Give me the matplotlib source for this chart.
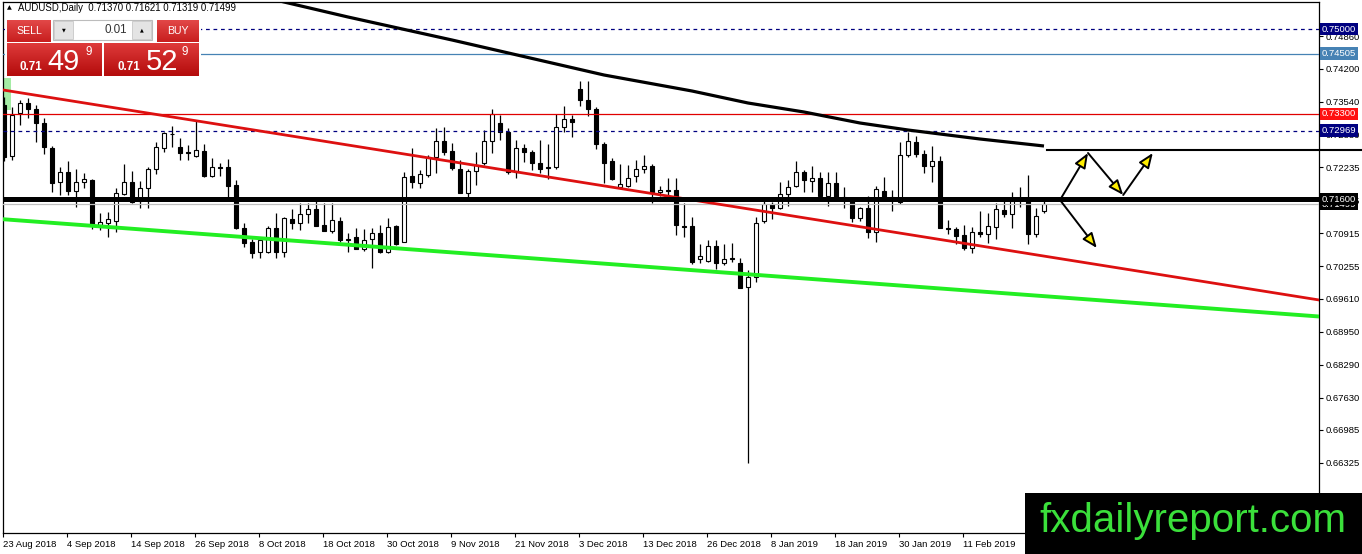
import matplotlib
matplotlib.use("Agg")
import matplotlib.pyplot as plt
import matplotlib.transforms as mtransforms
from matplotlib.colors import to_rgb
from matplotlib.patches import Rectangle, FancyArrowPatch
import numpy as np

plt.rcParams['font.family'] = ['Liberation Sans', 'DejaVu Sans']

# ---- chart data ----
symbol_info = "AUDUSD,Daily  0.71370 0.71621 0.71319 0.71499"

opens = [0.7348, 0.7246, 0.7332, 0.7352, 0.7340, 0.7312, 0.7262, 0.7194, 0.7214, 0.7176,
         0.7194, 0.7198, 0.7108, 0.7112, 0.7116, 0.7170, 0.7194, 0.7156, 0.7182, 0.7220,
         0.7262, 0.7291, 0.7264, 0.7254, 0.7246, 0.7256, 0.7206, 0.7225, 0.7224, 0.7188,
         0.7102, 0.7074, 0.7054, 0.7054, 0.7102, 0.7054, 0.7120, 0.7112, 0.7130, 0.7140,
         0.7108, 0.7096, 0.7116, 0.7081, 0.7084, 0.7060, 0.7080, 0.7092, 0.7054, 0.7106,
         0.7074, 0.7206, 0.7192, 0.7208, 0.7244, 0.7276, 0.7256, 0.7220, 0.7172, 0.7216,
         0.7232, 0.7276, 0.7312, 0.7294, 0.7214, 0.7262, 0.7254, 0.7232, 0.7225, 0.7224,
         0.7304, 0.7320, 0.7380, 0.7358, 0.7340, 0.7270, 0.7236, 0.7184, 0.7186, 0.7206,
         0.7220, 0.7226, 0.7174, 0.7179, 0.7178, 0.7107, 0.7106, 0.7040, 0.7036, 0.7066,
         0.7032, 0.7043, 0.7032, 0.6984, 0.7004, 0.7116, 0.7150, 0.7142, 0.7170, 0.7186,
         0.7214, 0.7196, 0.7202, 0.7166, 0.7192, 0.7165, 0.7158, 0.7122, 0.7142, 0.7094,
         0.7176, 0.7165, 0.7154, 0.7248, 0.7274, 0.7250, 0.7226, 0.7236, 0.7103, 0.7100,
         0.7088, 0.7062, 0.7094, 0.7090, 0.7104, 0.7138, 0.7130, 0.7162, 0.7158, 0.7090,
         0.71370]
highs = [0.7365, 0.7344, 0.7358, 0.7362, 0.7348, 0.7322, 0.7266, 0.7224, 0.7236, 0.7220,
         0.7212, 0.7200, 0.7132, 0.7134, 0.7182, 0.7230, 0.7216, 0.7196, 0.7224, 0.7274,
         0.7294, 0.7306, 0.7282, 0.7268, 0.7316, 0.7270, 0.7242, 0.7232, 0.7240, 0.7198,
         0.7112, 0.7080, 0.7082, 0.7106, 0.7132, 0.7124, 0.7140, 0.7152, 0.7152, 0.7156,
         0.7152, 0.7152, 0.7124, 0.7092, 0.7102, 0.7100, 0.7102, 0.7108, 0.7122, 0.7108,
         0.7214, 0.7262, 0.7218, 0.7248, 0.7302, 0.7304, 0.7272, 0.7238, 0.7220, 0.7254,
         0.7298, 0.7340, 0.7328, 0.7302, 0.7278, 0.7270, 0.7258, 0.7278, 0.7270, 0.7330,
         0.7346, 0.7328, 0.7396, 0.7396, 0.7344, 0.7274, 0.7242, 0.7230, 0.7228, 0.7238,
         0.7248, 0.7230, 0.7186, 0.7202, 0.7202, 0.7152, 0.7124, 0.7070, 0.7078, 0.7078,
         0.7070, 0.7072, 0.7042, 0.7018, 0.7124, 0.7160, 0.7154, 0.7194, 0.7198, 0.7236,
         0.7218, 0.7226, 0.7214, 0.7214, 0.7214, 0.7184, 0.7164, 0.7144, 0.7166, 0.7186,
         0.7204, 0.7178, 0.7274, 0.7294, 0.7286, 0.7258, 0.7266, 0.7246, 0.7118, 0.7104,
         0.7108, 0.7104, 0.7136, 0.7132, 0.7152, 0.7156, 0.7174, 0.7184, 0.7208, 0.7142,
         0.71621]
lows = [0.7236, 0.7238, 0.7308, 0.7322, 0.7274, 0.7250, 0.7174, 0.7168, 0.7168, 0.7144,
        0.7182, 0.7100, 0.7098, 0.7084, 0.7094, 0.7168, 0.7152, 0.7142, 0.7142, 0.7210,
        0.7254, 0.7264, 0.7238, 0.7238, 0.7244, 0.7204, 0.7204, 0.7206, 0.7162, 0.7100,
        0.7064, 0.7042, 0.7042, 0.7052, 0.7042, 0.7044, 0.7100, 0.7098, 0.7112, 0.7106,
        0.7096, 0.7092, 0.7074, 0.7054, 0.7060, 0.7056, 0.7022, 0.7052, 0.7052, 0.7068,
        0.7074, 0.7182, 0.7182, 0.7204, 0.7212, 0.7248, 0.7218, 0.7172, 0.7164, 0.7188,
        0.7228, 0.7252, 0.7278, 0.7210, 0.7202, 0.7234, 0.7218, 0.7212, 0.7200, 0.7220,
        0.7294, 0.7284, 0.7346, 0.7326, 0.7260, 0.7192, 0.7198, 0.7182, 0.7184, 0.7194,
        0.7212, 0.7152, 0.7166, 0.7164, 0.7088, 0.7084, 0.7030, 0.7032, 0.7034, 0.7020,
        0.7028, 0.7034, 0.6982, 0.6632, 0.6994, 0.7112, 0.7120, 0.7140, 0.7146, 0.7184,
        0.7174, 0.7174, 0.7164, 0.7146, 0.7160, 0.7142, 0.7114, 0.7116, 0.7082, 0.7074,
        0.7158, 0.7136, 0.7150, 0.7244, 0.7244, 0.7212, 0.7194, 0.7102, 0.7090, 0.7070,
        0.7058, 0.7052, 0.7084, 0.7072, 0.7080, 0.7124, 0.7102, 0.7144, 0.7070, 0.7084,
        0.71319]
closes = [0.7244, 0.7328, 0.7352, 0.7340, 0.7312, 0.7264, 0.7192, 0.7214, 0.7176, 0.7194,
          0.7200, 0.7110, 0.7114, 0.7120, 0.7172, 0.7194, 0.7154, 0.7182, 0.7220, 0.7264,
          0.7292, 0.7290, 0.7252, 0.7252, 0.7258, 0.7206, 0.7224, 0.7223, 0.7186, 0.7102,
          0.7072, 0.7052, 0.7078, 0.7102, 0.7054, 0.7122, 0.7112, 0.7130, 0.7140, 0.7106,
          0.7096, 0.7118, 0.7078, 0.7079, 0.7060, 0.7078, 0.7092, 0.7054, 0.7104, 0.7070,
          0.7204, 0.7194, 0.7210, 0.7244, 0.7276, 0.7254, 0.7222, 0.7172, 0.7216, 0.7228,
          0.7276, 0.7330, 0.7294, 0.7214, 0.7262, 0.7254, 0.7232, 0.7220, 0.7223, 0.7304,
          0.7320, 0.7314, 0.7358, 0.7340, 0.7270, 0.7232, 0.7200, 0.7190, 0.7202, 0.7220,
          0.7226, 0.7174, 0.7178, 0.7177, 0.7108, 0.7105, 0.7034, 0.7046, 0.7066, 0.7032,
          0.7040, 0.7041, 0.6982, 0.7004, 0.7112, 0.7150, 0.7142, 0.7170, 0.7184, 0.7214,
          0.7198, 0.7202, 0.7166, 0.7192, 0.7162, 0.7163, 0.7122, 0.7142, 0.7094, 0.7180,
          0.7164, 0.7163, 0.7248, 0.7276, 0.7250, 0.7226, 0.7236, 0.7102, 0.7101, 0.7086,
          0.7062, 0.7094, 0.7090, 0.7106, 0.7140, 0.7130, 0.7156, 0.7158, 0.7090, 0.7126,
          0.71499]

date_labels = ["23 Aug 2018", "4 Sep 2018", "14 Sep 2018", "26 Sep 2018", "8 Oct 2018",
               "18 Oct 2018", "30 Oct 2018", "9 Nov 2018", "21 Nov 2018", "3 Dec 2018",
               "13 Dec 2018", "26 Dec 2018", "8 Jan 2019", "18 Jan 2019", "30 Jan 2019",
               "11 Feb 2019"]
date_bars = list(range(0, 121, 8))

price_ticks = [0.74860, 0.74200, 0.73540, 0.72880, 0.72235, 0.71575, 0.70915, 0.70255,
               0.69610, 0.68950, 0.68290, 0.67630, 0.66985, 0.66325, 0.65665]

# moving average (black curve)
ma_bars = [34, 35, 43, 56, 75, 86, 93, 100, 107, 113, 122, 130]
ma_vals = [0.7558, 0.7554, 0.7524, 0.7478, 0.7408, 0.7376, 0.7352, 0.7334, 0.7312, 0.7298,
           0.7280, 0.7266]

# horizontal levels
support_level = 0.71600
bid_level = 0.71499
red_level = 0.73300
dash_high = 0.75000
blue_level = 0.74505
dash_low = 0.72969
target_level = 0.7258

# trend lines (bar, price)
red_trend_x = [-0.5, 164.4]
red_trend_y = [0.7379, 0.6958]
green_trend_x = [-0.5, 164.4]
green_trend_y = [0.7120, 0.6925]

# projected path arrows (bar, price)
arrow_segments = [((132.0, 0.7158), (135.5, 0.7252)),
                  ((135.5, 0.7252), (139.9, 0.7168)),
                  ((139.9, 0.7168), (143.6, 0.7252)),
                  ((132.0, 0.7158), (136.6, 0.7062))]

# ---- figure ----
W, H = 1362, 554
fig = plt.figure(figsize=(W / 100, H / 100), dpi=100)
left_px, right_px, top_px, bot_px = 2.6, 1319, 2, 533
ax = fig.add_axes([left_px / W, (H - bot_px) / H, (right_px - left_px) / W, (bot_px - top_px) / H])
ax.set_xlim((left_px - 4) / 8, (right_px - 4) / 8)
ax.set_ylim(0.716 - (bot_px - 199) * 0.0002, 0.716 + (199 - top_px) * 0.0002)

# candles
for i, (o, h, l, c) in enumerate(zip(opens, highs, lows, closes)):
    ax.vlines(i, l, h, color='black', lw=0.9, zorder=2)
    body = max(abs(c - o), 0.00002)
    face = 'white' if c >= o else 'black'
    ax.add_patch(Rectangle((i - 0.3, min(o, c)), 0.6, body, fc=face, ec='black', lw=0.8, zorder=2.2))

# green marker block at chart start
ax.add_patch(Rectangle((-0.125, 0.7338), 1.0, 0.0064, fc='#8fe88f', ec='none', alpha=0.8, zorder=1.5))

# levels
ax.axhline(dash_high, color='#000080', lw=0.9, ls=(0, (3, 3)), zorder=3)
ax.axhline(blue_level, color='#4682b4', lw=0.9, zorder=3)
ax.axhline(red_level, color='#e00000', lw=0.9, zorder=3)
ax.axhline(dash_low, color='#000080', lw=0.9, ls=(0, (3, 3)), zorder=3)
ax.axhline(bid_level, color='#c0c0c0', lw=0.9, zorder=3)
ax.axhline(support_level, color='black', lw=3.6, zorder=3.2)

ax.plot(red_trend_x, red_trend_y, color='#dd1010', lw=2.0, zorder=3.1)
ax.plot(green_trend_x, green_trend_y, color='#22ee22', lw=2.8, zorder=3.1)
ax.plot(ma_bars, ma_vals, color='black', lw=2.3, zorder=3.3, solid_capstyle='butt')
ax.plot([130.4, 169.75], [target_level, target_level], color='black', lw=1.5,
        zorder=3.3, clip_on=False)

for (x0, y0), (x1, y1) in arrow_segments:
    ax.add_patch(FancyArrowPatch((x0, y0), (x1, y1), arrowstyle='-|>,head_length=9,head_width=3.6',
                                 mutation_scale=1, fc='#ffee00', ec='black', lw=1.4,
                                 shrinkA=0, shrinkB=0, zorder=4))

# axes styling
for s in ax.spines.values():
    s.set_color('black')
    s.set_linewidth(0.9)
ax.yaxis.tick_right()
ax.set_yticks(price_ticks)
ax.set_yticklabels([f"{v:.5f}" for v in price_ticks])
ax.tick_params(axis='y', length=3, width=0.8, labelsize=6.8, pad=2, colors='black')
ax.set_xticks([b - 0.17 for b in date_bars])
ax.set_xticklabels(date_labels, ha='left')
ax.tick_params(axis='x', length=3, width=0.8, labelsize=6.8, pad=2, colors='black')

# price tags on the axis
blend = mtransforms.blended_transform_factory(ax.transAxes, ax.transData)
tags = [(bid_level, 'black'), (support_level, 'black'), (dash_high, '#000080'),
        (blue_level, '#4682b4'), (red_level, '#ff1010'), (dash_low, '#000080')]
for val, col in tags:
    ax.text(1.0022, val, f"{val:.5f}", transform=blend, fontsize=6.8, color='white',
            va='center', ha='left', clip_on=False, zorder=10,
            bbox=dict(boxstyle='square,pad=0.2', fc=col, ec='none'))

# ---- overlay: header, trade panel, logo (pixel coords) ----
ov = fig.add_axes([0, 0, 1, 1], zorder=5)
ov.patch.set_alpha(0)
ov.axis('off')


def grad_box(x0, y0, x1, y1, top, bottom):
    t = np.array(to_rgb(top))
    b = np.array(to_rgb(bottom))
    f = np.linspace(0, 1, 32)[:, None, None]
    ov.imshow(t + (b - t) * f, extent=(x0, x1, y1, y0), aspect='auto', origin='upper',
              interpolation='bilinear', zorder=2)


ov.text(7, 8, '▲', fontsize=4.5, family='DejaVu Sans', va='center', ha='left')
ov.text(18, 8, symbol_info, fontsize=6.9, va='center', ha='left')

ov.add_patch(Rectangle((5, 18), 196, 59, fc='white', ec='none', zorder=1))
grad_box(7, 20, 51, 42, '#e24848', '#c81e1e')
grad_box(157, 20, 199, 42, '#e24848', '#c81e1e')
grad_box(7, 43, 102, 76, '#de3a3a', '#b40c0c')
grad_box(104, 43, 199, 76, '#de3a3a', '#b40c0c')
ov.add_patch(Rectangle((53, 20), 99, 20, fc='white', ec='#bcbcbc', lw=0.8, zorder=2))
ov.add_patch(Rectangle((54, 21), 19, 18, fc='#e4e4e4', ec='#c8c8c8', lw=0.6, zorder=3))
ov.add_patch(Rectangle((132, 21), 19, 18, fc='#e4e4e4', ec='#c8c8c8', lw=0.6, zorder=3))
ov.text(63.5, 30, '▼', fontsize=3.5, family='DejaVu Sans', ha='center', va='center', zorder=4)
ov.text(141.5, 30, '▲', fontsize=3.5, family='DejaVu Sans', ha='center', va='center', zorder=4)
ov.text(127, 30, '0.01', fontsize=8.4, color='#333333', ha='right', va='center', zorder=4)
ov.text(29, 31, 'SELL', fontsize=7.6, color='white', ha='center', va='center', zorder=4)
ov.text(178, 31, 'BUY', fontsize=7.6, color='white', ha='center', va='center', zorder=4)

for x_small, x_big, x_sup, big, sup in [(20, 47, 85, '49', '9'), (118, 146, 182, '52', '9')]:
    ov.text(x_small, 70, '0.71', fontsize=8.4, weight='bold', color='white',
            ha='left', va='baseline', zorder=4)
    ov.text(x_big, 70, big, fontsize=21, color='white', ha='left', va='baseline', zorder=4)
    ov.text(x_sup, 55, sup, fontsize=8.4, color='white', ha='left', va='baseline', zorder=4)

ov.add_patch(Rectangle((1025, 493), 337, 61, fc='black', ec='none', zorder=6))
ov.text(1193, 521, 'fxdailyreport.com', fontsize=29, color='#3be03b', ha='center',
        va='center', zorder=7)

ov.set_xlim(0, W)
ov.set_ylim(H, 0)

fig.savefig('out.png', dpi=100)
plt.close(fig)
